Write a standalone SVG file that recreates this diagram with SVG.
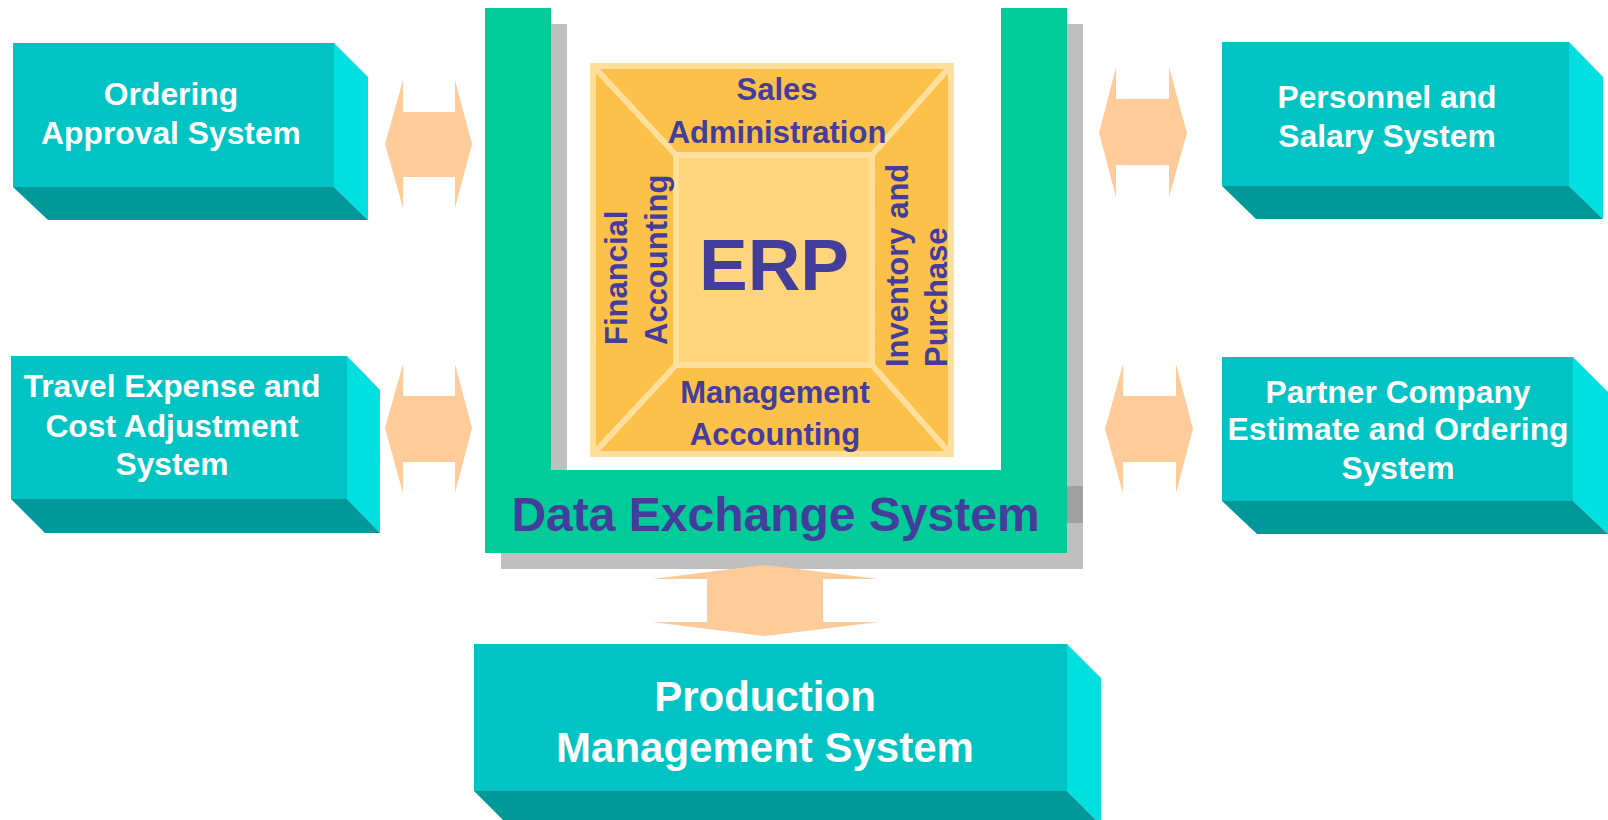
<svg xmlns="http://www.w3.org/2000/svg" width="1608" height="820" viewBox="0 0 1608 820">
  <style>
    .front { fill: #00C4C4; }
    .side { fill: #00E0E0; }
    .bottom { fill: #009898; }
    .lbl { font-family: "Liberation Sans", Arial, sans-serif; font-weight: bold; fill: #FFFFFF; text-anchor: middle; }
    .sys { font-size: 31.8px; }
    .big { font-size: 42px; }
    .arrow { fill: #FFCC99; }
    .erp { font-family: "Liberation Sans", Arial, sans-serif; font-weight: bold; fill: #433D9B; }
    .mod { font-size: 31px; }
    .ring { fill: #FDC048; stroke: #FFDF9C; stroke-width: 6; }
    .core { fill: #FED47C; stroke: #FFDF9C; stroke-width: 6; }
    .diag { stroke: #FFDF9C; stroke-width: 6; fill: none; }
  </style>

  <rect width="1608" height="820" fill="#FFFFFF"/>

  <!-- Data exchange frame with its drop shadow -->
  <g id="data-exchange">
    <path d="M501,24 H567 V486 H1017 V24 H1083 V569 H501 Z" fill="#BFBFBF"/>
    <rect x="1067" y="486" width="16" height="37" fill="#A0A0A0"/>
    <path d="M485,8 H551 V470 H1001 V8 H1067 V553 H485 Z" fill="#00CC99"/>
    <text class="erp" x="775.5" y="531" font-size="48" text-anchor="middle">Data Exchange System</text>
  </g>

  <!-- ERP core with its four modules -->
  <g id="erp">
    <rect class="ring" x="593" y="66" width="358" height="388"/>
    <line class="diag" x1="596" y1="69" x2="676" y2="155"/>
    <line class="diag" x1="948" y1="69" x2="872" y2="155"/>
    <line class="diag" x1="596" y1="451" x2="676" y2="365"/>
    <line class="diag" x1="948" y1="451" x2="872" y2="365"/>
    <rect class="core" x="676" y="155" width="196" height="210"/>
    <text class="erp mod" x="777" y="100" text-anchor="middle">Sales</text>
    <text class="erp mod" x="777" y="143" text-anchor="middle">Administration</text>
    <text class="erp mod" x="775" y="403" text-anchor="middle">Management</text>
    <text class="erp mod" x="775" y="445" text-anchor="middle">Accounting</text>
    <text class="erp mod" transform="translate(627,345) rotate(-90)">Financial</text>
    <text class="erp mod" transform="translate(667,345) rotate(-90)">Accounting</text>
    <text class="erp mod" transform="translate(908,367) rotate(-90)">Inventory and</text>
    <text class="erp mod" transform="translate(947,367) rotate(-90)">Purchase</text>
    <text class="erp" x="774" y="290" font-size="73" text-anchor="middle">ERP</text>
  </g>

  <!-- Two-way links -->
  <g id="connectors">
    <polygon class="arrow" points="385,144 403,80 403,112 455,112 455,80 472,144 455,208 455,177 403,177 403,208"/>
    <polygon class="arrow" points="385,428 403,364 403,396 455,396 455,364 472,428 455,493 455,462 403,462 403,493"/>
    <polygon class="arrow" points="1099,133 1116,67 1116,99 1169,99 1169,67 1187,133 1169,197 1169,165 1116,165 1116,197"/>
    <polygon class="arrow" points="1105,429 1123,364 1123,396 1176,396 1176,364 1193,429 1176,493 1176,462 1123,462 1123,493"/>
    <polygon class="arrow" points="765,565 879,579 823,579 823,622 879,622 765,636 652,622 707,622 707,579 652,579"/>
  </g>

  <g id="ordering-approval">
    <rect class="front" x="13" y="43" width="321" height="144"/>
    <polygon class="side" points="334,43 368,77 368,220 334,187"/>
    <polygon class="bottom" points="13,187 334,187 368,220 48,220"/>
    <text class="lbl sys" x="171" y="105">Ordering</text>
    <text class="lbl sys" x="171" y="144">Approval System</text>
  </g>

  <g id="travel-expense">
    <rect class="front" x="11" y="356" width="336" height="143"/>
    <polygon class="side" points="347,356 380,390 380,533 347,499"/>
    <polygon class="bottom" points="11,499 347,499 380,533 45,533"/>
    <text class="lbl sys" x="172" y="397">Travel Expense and</text>
    <text class="lbl sys" x="172" y="437">Cost Adjustment</text>
    <text class="lbl sys" x="172" y="475">System</text>
  </g>

  <g id="personnel-salary">
    <rect class="front" x="1222" y="42" width="347" height="144"/>
    <polygon class="side" points="1569,42 1603,77 1603,219 1569,186"/>
    <polygon class="bottom" points="1222,186 1569,186 1603,219 1256,219"/>
    <text class="lbl sys" x="1387" y="108">Personnel and</text>
    <text class="lbl sys" x="1387" y="147">Salary System</text>
  </g>

  <g id="partner-ordering">
    <rect class="front" x="1222" y="357" width="351" height="144"/>
    <polygon class="side" points="1573,357 1608,392 1608,534 1573,501"/>
    <polygon class="bottom" points="1222,501 1573,501 1608,534 1257,534"/>
    <text class="lbl sys" x="1398" y="403">Partner Company</text>
    <text class="lbl sys" x="1398" y="440">Estimate and Ordering</text>
    <text class="lbl sys" x="1398" y="479">System</text>
  </g>

  <g id="production-management">
    <rect class="front" x="474" y="644" width="593" height="147"/>
    <polygon class="side" points="1067,644 1101,678 1101,825 1067,791"/>
    <polygon class="bottom" points="474,791 1067,791 1101,825 508,825"/>
    <text class="lbl big" x="765" y="711">Production</text>
    <text class="lbl big" x="765" y="762">Management System</text>
  </g>
</svg>
